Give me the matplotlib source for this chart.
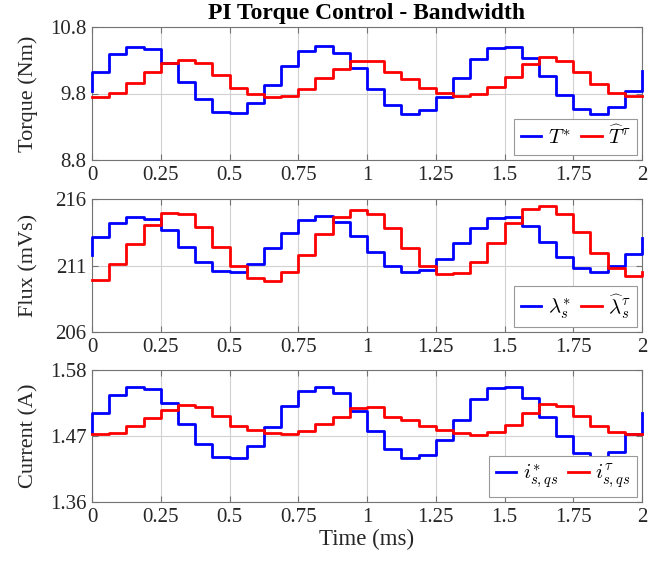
import numpy as np
import matplotlib
matplotlib.use("Agg")
import matplotlib.pyplot as plt

plt.rcParams['font.family'] = ['Liberation Serif', 'DejaVu Serif']
plt.rcParams['mathtext.fontset'] = 'cm'

dt = 0.0625  # ms per sample

# Torque (Nm)
torque_ref_pre, torque_ref_post = 9.835, 10.137
torque_ref = [10.127, 10.388, 10.503, 10.463, 10.262, 9.976, 9.71, 9.524,
              9.509, 9.66, 9.926, 10.212, 10.438, 10.513, 10.413, 10.177,
              9.875, 9.62, 9.498, 9.559, 9.75, 10.026, 10.313, 10.478,
              10.493, 10.338, 10.061, 9.775, 9.569, 9.498, 9.6, 9.835]
torque_est = [9.745, 9.81, 9.96, 10.127, 10.262, 10.302, 10.252, 10.076,
              9.885, 9.8, 9.75, 9.76, 9.87, 10.026, 10.172, 10.287,
              10.287, 10.122, 10.011, 9.885, 9.81, 9.76, 9.8, 9.895,
              10.051, 10.247, 10.352, 10.287, 10.127, 9.936, 9.81, 9.76]

# Flux (mVs)
flux_ref_pre, flux_ref_post = 211.8, 213.1
flux_ref = [213.125, 214.175, 214.675, 214.5, 213.675, 212.425, 211.25, 210.6,
            210.5, 211.125, 212.3, 213.475, 214.425, 214.725, 214.3, 213.25,
            212.05, 211.0, 210.475, 210.675, 211.5, 212.675, 213.85, 214.6,
            214.675, 214.0, 212.8, 211.675, 210.8, 210.475, 210.925, 211.85]
flux_est_post = 210.5
flux_est = [209.925, 211.1, 212.6, 214.05, 214.925, 214.875, 213.925, 212.425,
            211.0, 210.05, 209.8, 210.475, 211.8, 213.35, 214.625, 215.175,
            214.85, 213.8, 212.3, 210.975, 210.35, 210.4, 211.25, 212.675,
            214.225, 215.25, 215.5, 214.875, 213.55, 211.975, 210.8, 210.175]

# Current (A)
cur_ref_pre, cur_ref_post = 1.4744, 1.5089
cur_ref = [1.5089, 1.5383, 1.5522, 1.5478, 1.5244, 1.49, 1.4567, 1.4356,
           1.4339, 1.4539, 1.4856, 1.52, 1.545, 1.5522, 1.5411, 1.5122,
           1.4783, 1.4478, 1.4328, 1.4383, 1.4633, 1.4967, 1.5317, 1.5494,
           1.5511, 1.5339, 1.5022, 1.47, 1.4411, 1.4328, 1.4439, 1.4733]
cur_est = [1.4733, 1.4756, 1.4872, 1.5006, 1.5133, 1.5217, 1.5189, 1.5039,
           1.4867, 1.48, 1.4744, 1.4728, 1.4789, 1.49, 1.5022, 1.5161,
           1.5189, 1.5011, 1.4967, 1.4872, 1.48, 1.4744, 1.4717, 1.4772,
           1.4883, 1.5078, 1.5228, 1.52, 1.5033, 1.4867, 1.4761, 1.4733]

x_ticks = [0, 0.25, 0.5, 0.75, 1, 1.25, 1.5, 1.75, 2]
x_ticklabels = ['0', '0.25', '0.5', '0.75', '1', '1.25', '1.5', '1.75', '2']

panels = [
    dict(ylabel='Torque (Nm)', ylim=(8.8, 10.8), yticks=[8.8, 9.8, 10.8],
         yticklabels=['8.8', '9.8', '10.8'],
         ref=torque_ref, ref_pre=torque_ref_pre, ref_post=torque_ref_post,
         est=torque_est, est_pre=torque_est[0], est_post=torque_est[-1],
         labels=[r'$T^{*}$', r'$\widehat{T}^{\tau}$']),
    dict(ylabel='Flux (mVs)', ylim=(206, 216), yticks=[206, 211, 216],
         yticklabels=['206', '211', '216'],
         ref=flux_ref, ref_pre=flux_ref_pre, ref_post=flux_ref_post,
         est=flux_est, est_pre=flux_est[0], est_post=flux_est_post,
         labels=[r'$\lambda_s^{*}$', r'$\widehat{\lambda}_s^{\tau}$']),
    dict(ylabel='Current (A)', ylim=(1.36, 1.58), yticks=[1.36, 1.47, 1.58],
         yticklabels=['1.36', '1.47', '1.58'],
         ref=cur_ref, ref_pre=cur_ref_pre, ref_post=cur_ref_post,
         est=cur_est, est_pre=cur_est[0], est_post=cur_est[-1],
         labels=[r'$i_{s,qs}^{*}$', r'$i_{s,qs}^{\tau}$']),
]

W, H = 665, 564
fig = plt.figure(figsize=(W / 100, H / 100), dpi=100)
axes_px = [(92, 27, 642, 160), (92, 199, 642, 332), (92, 370, 642, 502)]

spine_col = '0.45'
text_col = '#262626'

def step_arrays(pre, vals, post):
    n = len(vals)
    t = np.concatenate([[0.0], np.arange(n + 1) * dt])
    y = np.concatenate([[pre], vals, [post]])
    return t, y

for (l, t, r, b), p in zip(axes_px, panels):
    ax = fig.add_axes([l / W, 1 - b / H, (r - l) / W, (b - t) / H])
    tr, yr = step_arrays(p['ref_pre'], p['ref'], p['ref_post'])
    te, ye = step_arrays(p['est_pre'], p['est'], p['est_post'])
    ax.step(tr, yr, where='post', color='#0000ff', lw=2.0, label=p['labels'][0],
            clip_on=False, zorder=3)
    ax.step(te, ye, where='post', color='#ff0000', lw=2.0, label=p['labels'][1],
            clip_on=False, zorder=3)
    ax.set_xlim(0, 2)
    ax.set_ylim(*p['ylim'])
    ax.set_xticks(x_ticks)
    ax.set_xticklabels(x_ticklabels)
    ax.set_yticks(p['yticks'])
    ax.set_yticklabels(p['yticklabels'])
    ax.grid(True, color='0.82', lw=0.8)
    ax.set_axisbelow(True)
    for s in ax.spines.values():
        s.set_color(spine_col)
        s.set_linewidth(0.8)
    ax.tick_params(direction='in', top=True, right=True, length=4,
                   color=spine_col, labelsize=15, labelcolor=text_col, pad=4)
    ax.set_ylabel(p['ylabel'], fontsize=16, color=text_col)
    ax.yaxis.set_label_coords(-0.098, 0.5)
    leg = ax.legend(loc='lower right', ncol=2, fontsize=15, frameon=True,
                    fancybox=False, edgecolor='0.6', framealpha=1,
                    handlelength=1.0, handletextpad=0.3, columnspacing=0.5,
                    borderpad=0.3, borderaxespad=0.25)
    leg.get_frame().set_linewidth(0.8)
    if p is panels[-1]:
        ax.set_xlabel('Time (ms)', fontsize=16.5, color=text_col, labelpad=2)

fig.text(367 / W, 1 - 14 / H, 'PI Torque Control - Bandwidth', ha='center',
         va='center', fontsize=17, fontweight='bold', color='black')

fig.savefig('out.png', dpi=100)
